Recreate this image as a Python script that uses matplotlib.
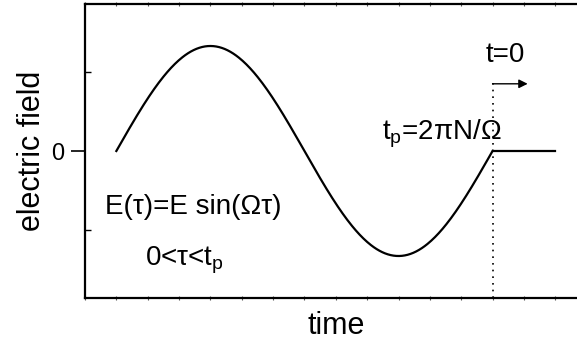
import numpy as np
import matplotlib
matplotlib.use("Agg")
import matplotlib.pyplot as plt

plt.rcParams['font.family'] = ['Liberation Sans', 'DejaVu Sans']
plt.rcParams['mathtext.fontset'] = 'custom'
plt.rcParams['mathtext.rm'] = 'Liberation Sans'
plt.rcParams['mathtext.it'] = 'Liberation Sans'

# pulse parameters (time in tick units, field in units of E)
E0 = 1.0          # amplitude
N = 1             # number of periods
t_start = 1.0     # pulse begins
t_p = 12.0        # pulse length = 2*pi*N/Omega
t_end = 15.0      # end of the flat part after the pulse
x_max = 16.0
y_lim = 1.4
y_minor = [-0.75, 0.75]

omega = 2 * np.pi * N / t_p
tau = np.linspace(0, t_p, 400)
field = E0 * np.sin(omega * tau)
t_zero = t_start + t_p

fig = plt.figure(figsize=(5.77, 3.43), dpi=100)
# right spine sits just past the figure edge
ax = fig.add_axes([85 / 577, 45 / 343, 501.6 / 577, 294 / 343])

ax.plot(tau + t_start, field, color='black', lw=1.6)
ax.plot([t_zero, t_end], [0, 0], color='black', lw=1.6)
ax.plot([t_zero, t_zero], [-y_lim, 0.66], color='black', lw=1.2, ls=(0, (1, 3)))
ax.annotate('', xy=(14.12, 0.64), xytext=(t_zero, 0.64),
            arrowprops=dict(arrowstyle='-|>', color='black', lw=1, mutation_scale=13,
                            shrinkA=0, shrinkB=0))

ax.set_xlim(0, x_max)
ax.set_ylim(-y_lim, y_lim)

ax.set_xticks(np.arange(0, x_max + 1))
ax.set_xticklabels([])
ax.tick_params(axis='x', which='major', direction='inout', length=3, width=0.8,
               top=True, bottom=True, color='#555555')
ax.set_yticks([0])
ax.set_yticklabels(['0'])
ax.set_yticks(y_minor, minor=True)
ax.tick_params(axis='y', which='major', direction='out', length=10, width=1.2,
               pad=5, labelsize=17)
ax.tick_params(axis='y', which='minor', direction='in', length=4, width=1,
               left=True, right=False)

for s in ax.spines.values():
    s.set_linewidth(1.6)

ax.set_xlabel('time', fontsize=22, labelpad=4)
ax.set_ylabel('electric field', fontsize=22, labelpad=3)

ax.text(12.79, 0.848, 't=0', fontsize=20, va='baseline')
ax.text(9.47, 0.105, 't$_\\mathregular{p}$=2πN/Ω', fontsize=20, va='baseline')
ax.text(0.64, -0.6, 'E(τ)=E sin(Ωτ)', fontsize=20, va='baseline')
ax.text(1.91, -1.086, '0<τ<t$_\\mathregular{p}$', fontsize=20, va='baseline')

fig.savefig('out.png', dpi=100)
